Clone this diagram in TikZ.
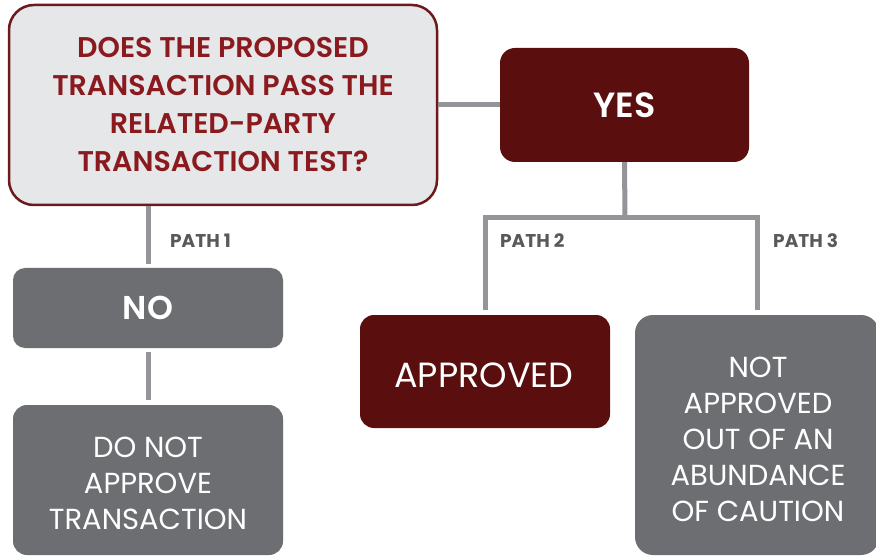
\documentclass[tikz,border=0pt]{standalone}
\usepackage{fontspec}
\setmainfont{Poppins}
\newfontfamily\boldf{Poppins}[UprightFont=* SemiBold]
\newfontfamily\heavyf{Poppins}[UprightFont=* Bold]
\definecolor{qfill}{HTML}{E6E7E8}
\definecolor{qborder}{HTML}{6D1A1C}
\definecolor{qtext}{HTML}{8B1A1F}
\definecolor{dred}{HTML}{5B0E0E}
\definecolor{dgray}{HTML}{6D6E71}
\definecolor{cgray}{HTML}{939598}
\definecolor{ptext}{HTML}{58595B}
\begin{document}
\begin{tikzpicture}[x=1pt,y=-1pt,
  box/.style={rectangle, draw=none, inner sep=0pt, align=center, text=white},
  txt/.style={inner sep=0pt, align=center, text=white},
  conn/.style={draw=cgray, line width=5pt},
  pathlbl/.style={anchor=west, inner sep=0pt, text=ptext, font=\heavyf\fontsize{18.5}{20}\selectfont}]
\useasboundingbox (0,0) rectangle (876,556);
\clip (0,0) rectangle (876,556);
\fill[white] (0,0) rectangle (876,556);
\node[box, fill=qfill, draw=qborder, line width=2.5pt, rounded corners=25pt,
  minimum width=428pt, minimum height=200pt, text=qtext,
  font=\boldf\fontsize{28.5}{38}\selectfont] (Q) at (223,105)
  {DOES THE PROPOSED\\TRANSACTION PASS THE\\RELATED-PARTY\\TRANSACTION TEST?};
\node[box, fill=dred, rounded corners=15pt, minimum width=249pt, minimum height=114pt,
  font=\boldf\fontsize{35}{38}\selectfont] (YES) at (624.5,105) {YES};
\node[box, fill=dgray, rounded corners=12pt, minimum width=270pt, minimum height=80pt,
  font=\boldf\fontsize{33}{38}\selectfont] (NO) at (148,308) {NO};
\node[box, fill=dgray, rounded corners=14pt, minimum width=270pt, minimum height=150pt] (DNbox) at (148,480) {};
\node[txt, font=\fontsize{29}{36}\selectfont] (DN) at (148,483) {DO NOT\\APPROVE\\TRANSACTION};
\node[box, fill=dred, rounded corners=14pt, minimum width=250pt, minimum height=113pt] (APbox) at (485,371.5) {};
\node[txt, font=\fontsize{35}{38}\selectfont] (AP) at (484,375) {APPROVED};
\node[box, fill=dgray, rounded corners=18pt, minimum width=244pt, minimum height=240pt] (NAbox) at (757,435) {};
\node[txt, font=\fontsize{29}{36}\selectfont] (NA) at (758,439)
  {NOT\\APPROVED\\OUT OF AN\\ABUNDANCE\\OF CAUTION};
\coordinate (br) at (625,218);
\draw[conn] (Q.east) -- (YES.west);
\draw[conn] (NO.north |- Q.south) -- ([yshift=4pt]NO.north);
\draw[conn] ([yshift=-4pt]NO.south) -- ([yshift=5pt]DNbox.north);
\draw[conn] (YES.south) -- (br);
\draw[conn] ([yshift=5pt]APbox.north) -- (APbox.north |- br) -- (NAbox.north |- br) -- ([yshift=5pt]NAbox.north);
\node[pathlbl] (p1) at (170,241) {PATH 1};
\node[pathlbl] (p2) at (500,241) {PATH 2};
\node[pathlbl] (p3) at (773,241) {PATH 3};
\end{tikzpicture}
\end{document}
